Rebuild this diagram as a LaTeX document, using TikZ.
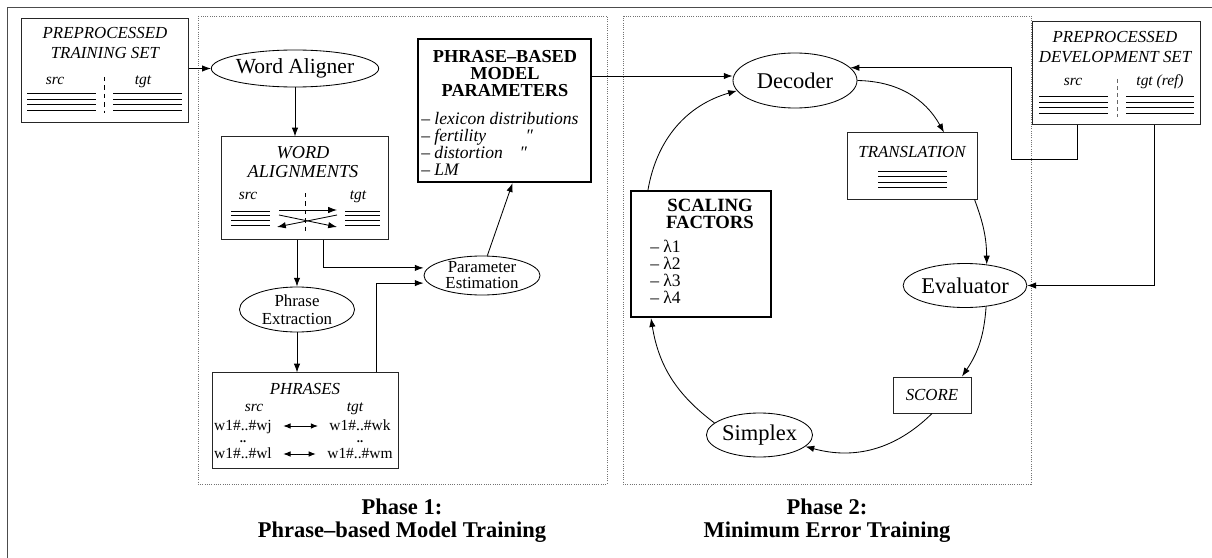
\documentclass[tikz,border=0pt]{standalone}
\usepackage{fontspec}
\setmainfont{Liberation Serif}
\usetikzlibrary{arrows.meta,positioning,shapes.geometric}

\begin{document}
\begin{tikzpicture}[
  x=0.025cm, y=-0.025cm,
  frame/.style={draw=black!70, line width=0.7pt},
  phase/.style={draw=black!55, densely dotted, line width=0.6pt},
  box/.style={draw=black!85, line width=0.7pt, inner sep=0pt},
  keybox/.style={draw, line width=1.6pt, inner sep=0pt},
  proc/.style={draw, ellipse, line width=0.6pt, inner sep=0pt, align=center, font=\fontsize{16}{18}\selectfont},
  subproc/.style={proc, font=\fontsize{12}{12.8}\selectfont},
  caps/.style={font=\fontsize{12}{14.2}\selectfont\itshape, align=center, inner sep=0pt},
  head/.style={font=\fontsize{13}{11.8}\selectfont\bfseries, align=center, inner sep=0pt},
  colname/.style={font=\fontsize{11}{13}\selectfont\itshape, text height=1.6ex, text depth=0.3ex, inner sep=0pt},
  pair/.style={font=\fontsize{11}{13}\selectfont, text height=1.6ex, text depth=0.3ex, inner ysep=0pt, inner xsep=8pt},
  gap/.style={font=\fontsize{9}{9}\selectfont\bfseries, text height=0.3ex, text depth=0pt, inner sep=0pt},
  itemlist/.style={font=\fontsize{12.5}{12.1}\selectfont, align=left, inner sep=0pt},
  phaselabel/.style={font=\fontsize{16}{16.5}\selectfont\bfseries, align=center},
  textline/.style={line width=0.6pt},
  arrow/.style={-{Latex[length=2.2mm, width=1.6mm]}, line width=0.6pt},
  twoway/.style={{Latex[length=1.8mm, width=1.4mm]}-{Latex[length=1.8mm, width=1.4mm]}, line width=0.6pt}
]
\useasboundingbox (0,0) rectangle (1212,558);
\draw[frame] (7,558) -- (7,7) -- (1212,7);
\draw[phase] (198,16) rectangle (607,484);
\draw[phase] (623,16) rectangle (1031,484);

% phase 1
\node[box, minimum width=4.15cm, minimum height=2.575cm] (trainset) at (105,70.5) {};
\node[caps] (trainsettitle) at (105,43) {PREPROCESSED\\TRAINING SET};
\node[colname] (trainsrc) at (55,80) {src};
\node[colname] (traintgt) at (143,80) {tgt};
\draw[dashed] (104,77) -- (104,113);
\foreach \y in {93,99,104.5,110} {
  \draw[textline] (27,\y) -- (96,\y);
  \draw[textline] (113,\y) -- (182,\y);
}

\node[proc, minimum width=3.6cm, minimum height=0.925cm, font=\fontsize{15.3}{16}\selectfont] (aligner) at (295,68.5) {Word Aligner};

\node[box, minimum width=4.15cm, minimum height=2.55cm] (alignbox) at (305,188) {};
\node[caps, font=\fontsize{13}{13.5}\selectfont\itshape] (alignboxtitle) at (303,162.5) {WORD\\ALIGNMENTS};
\node[colname] (alignsrc) at (248,195) {src};
\node[colname] (aligntgt) at (358,195) {tgt};
\draw[dashed] (305,193) -- (305,231);
\foreach \y in {211,215.5,220,225} {
  \draw[textline] (231,\y) -- (270,\y);
  \draw[textline] (345,\y) -- (380,\y);
}
\draw[arrow] (279,210) -- (337,210);
\draw[arrow] (279,215) -- (337,227);
\draw[arrow] (337,215) -- (277,227);

\node[subproc, minimum width=2.875cm, minimum height=1.125cm] (phrext) at (297,309.5) {Phrase\\Extraction};
\node[subproc, minimum width=2.9cm, minimum height=0.975cm, font=\fontsize{12}{11.4}\selectfont] (paramest) at (482,275.5) {Parameter\\Estimation};

\node[box, minimum width=4.625cm, minimum height=2.375cm] (phrases) at (305.5,420.5) {};
\node[caps] (phrasestitle) at (305,389) {PHRASES};
\node[colname] (phrsrc) at (254,407) {src};
\node[colname] (phrtgt) at (355,407) {tgt};
\node[pair] (srcone) at (243,426) {w1\#..\#wj};
\node[pair] (tgtone) at (360,426) {w1\#..\#wk};
\node[gap] (srcdots) at (243,442) {..};
\node[gap] (tgtdots) at (360,442) {..};
\node[pair] (srctwo) at (243,454) {w1\#..\#wl};
\node[pair] (tgttwo) at (360,454) {w1\#..\#wm};
\draw[twoway] (srcone) -- (tgtone);
\draw[twoway] (srctwo) -- (tgttwo);

\node[keybox, minimum width=4.325cm, minimum height=3.575cm] (pbmp) at (504.5,110.5) {};
\node[head] (pbmptitle) at (505,73.5) {PHRASE--BASED\\MODEL\\PARAMETERS};
\node[itemlist, font=\fontsize{12.5}{12.1}\selectfont\itshape, anchor=north west] (pbmplist) at (421,112) {-- lexicon distributions\\-- fertility\hspace{28pt}″\\-- distortion\hspace{12pt}″\\-- LM};

\draw[arrow] (trainset.east |- aligner) -- (aligner);
\draw[arrow] (aligner.south) -- (aligner.south |- alignbox.north);
\draw[arrow] (alignbox.south -| phrext) -- (phrext);
\draw[arrow] (phrext) -- (phrases.north -| phrext);
\draw[arrow] ([xshift=0.45cm]alignbox.south) |- ([yshift=0.19cm]paramest.west);
\draw[arrow] ([xshift=1.7625cm]phrases.north) |- ([yshift=-0.19cm]paramest.west);
\draw[arrow] (paramest.75) -- ([xshift=0.2cm]pbmp.south);

% phase 2
\node[proc, minimum width=3.1cm, minimum height=1.375cm] (decoder) at (795,80.5) {Decoder};
\node[box, minimum width=3.225cm, minimum height=1.65cm] (translation) at (912.5,166) {};
\node[caps] (translationtitle) at (912,152) {TRANSLATION};
\foreach \y in {171,176,182,187}
  \draw[textline] (878,\y) -- (947,\y);

\node[box, minimum width=4.175cm, minimum height=2.55cm] (devset) at (1116.5,73) {};
\node[caps] (devsettitle) at (1115,47) {PREPROCESSED\\DEVELOPMENT SET};
\node[colname] (devsrc) at (1073,81) {src};
\node[colname] (devtgt) at (1160,81) {tgt (ref)};
\draw[densely dashed, black!60] (1117,79) -- (1117,117);
\foreach \y in {96,102,107,113} {
  \draw[textline] (1039,\y) -- (1108,\y);
  \draw[textline] (1126,\y) -- (1194,\y);
}

\node[proc, minimum width=2.625cm, minimum height=1.1cm] (evaluator) at (965,285.5) {Evaluator};
\node[box, minimum width=1.95cm, minimum height=0.9cm, font=\fontsize{12}{14}\selectfont\itshape] (score) at (932,395) {SCORE};
\node[proc, minimum width=2.625cm, minimum height=1.1cm] (simplex) at (759.5,435) {Simplex};

\node[keybox, minimum width=3.5cm, minimum height=3.15cm] (scaling) at (701,254) {};
\node[head, font=\fontsize{13.3}{12.1}\selectfont\bfseries] (scalingtitle) at (710,213.5) {SCALING\\FACTORS};
\node[itemlist, anchor=north west] (lambdas) at (650,240) {-- λ1\\-- λ2\\-- λ3\\-- λ4};

\coordinate (srcturn) at (1011,159);
\draw[arrow] ([yshift=0.8625cm]pbmp.east) -- ([yshift=0.8625cm]pbmp.east -| decoder.west);
\draw[arrow] ([xshift=-0.9875cm]devset.south) |- (srcturn) |- (decoder.13);
\draw[arrow] ([xshift=0.9375cm]devset.south) |- (evaluator.east);
\draw[arrow] (decoder.east) to[bend left=30] ([xshift=0.7875cm]translation.north);
\draw[arrow] ([xshift=1.55cm]translation.south) to[bend left=10] (evaluator.44);
\draw[arrow] (evaluator.-45) to[bend left=15] ([xshift=0.75cm]score.north);
\draw[arrow] (score.south) to[bend left=30] (simplex.-14);
\draw[arrow] (simplex.165) to[bend left=22] ([xshift=-1.25cm]scaling.south);
\draw[arrow] ([xshift=-1.325cm]scaling.north) to[bend left=32] (decoder.190);

\node[phaselabel] (phaseonelabel) at (402,521) {Phase 1:\\Phrase--based Model Training};
\node[phaselabel] (phasetwolabel) at (827,521) {Phase 2:\\Minimum Error Training};
\end{tikzpicture}
\end{document}
